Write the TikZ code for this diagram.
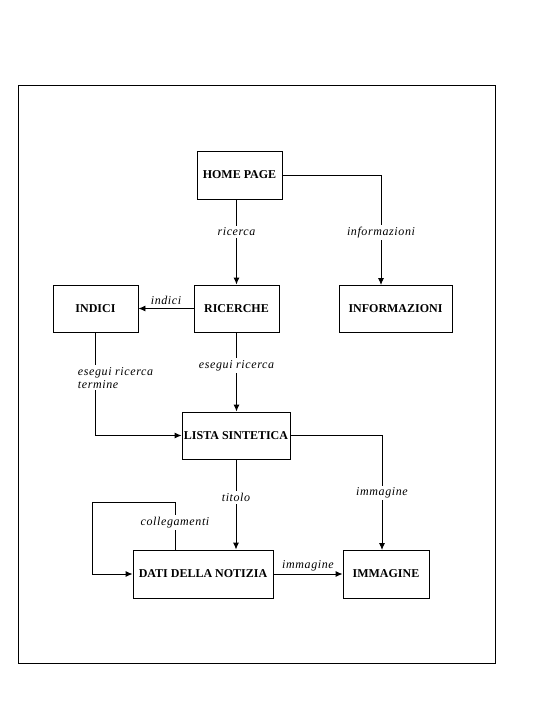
\documentclass[tikz,border=0pt]{standalone}
\usepackage{fontspec}
\setmainfont{Liberation Serif}
\newfontfamily\lblfont[LetterSpace=5]{Liberation Serif}
\usetikzlibrary{arrows.meta}
\tikzset{
  box/.style={draw, line width=0.9pt, rectangle, inner sep=0pt, font=\fontsize{12}{14}\selectfont\bfseries},
  lbl/.style={fill=white, inner sep=2pt, font=\lblfont\fontsize{12}{13}\selectfont\itshape},
  conn/.style={line width=0.9pt, -{Latex[length=7pt,width=6pt]}},
  plain/.style={line width=0.9pt}
}
\begin{document}
\begin{tikzpicture}[x=1pt,y=-1pt]
\useasboundingbox (0,0) rectangle (543,724);
\draw[plain] (18,85) rectangle (495,663);
\node[box, minimum width=85pt, minimum height=48pt] (home) at (239.5,175) {HOME PAGE};
\node[box, minimum width=85pt, minimum height=47pt] (indici) at (95.5,308.5) {INDICI};
\node[box, minimum width=85pt, minimum height=47pt] (ricerche) at (236.5,308.5) {RICERCHE};
\node[box, minimum width=113pt, minimum height=47pt] (info) at (395.5,308.5) {INFORMAZIONI};
\node[box, minimum width=108pt, minimum height=47pt] (lista) at (236,435.5) {LISTA SINTETICA};
\node[box, minimum width=140pt, minimum height=48pt] (dati) at (203,574) {DATI DELLA NOTIZIA};
\node[box, minimum width=86pt, minimum height=48pt] (imm) at (386,574) {IMMAGINE};
\coordinate (infotop) at (381,285);
\coordinate (immtop) at (382,550);
\coordinate (loopstart) at (175,550);
\coordinate (loopA) at (175,502);
\coordinate (loopB) at (92,502);
\draw[conn] (ricerche.north |- home.south) -- node[lbl, pos=0.38]{ricerca} (ricerche.north);
\draw[conn] (home.east) -| node[lbl, pos=0.76]{informazioni} (infotop);
\draw[conn] (ricerche.west) -- node[above, inner sep=3pt, font=\lblfont\fontsize{12}{13}\selectfont\itshape]{indici} (indici.east);
\draw[conn] (indici.south) |- node[lbl, pos=0.22, anchor=west, xshift=-20pt, align=left]{esegui ricerca\\termine} (lista.west);
\draw[conn] (ricerche.south) -- node[lbl, pos=0.42]{esegui ricerca} (ricerche.south |- lista.north);
\draw[conn] (lista.east) -| node[lbl, pos=0.75]{immagine} (immtop);
\draw[conn] (lista.south) -- node[lbl, pos=0.42]{titolo} (lista.south |- dati.north);
\draw[conn] (dati.east) -- node[above, inner sep=3pt, font=\lblfont\fontsize{12}{13}\selectfont\itshape]{immagine} (imm.west);
\draw[conn] (loopstart) -- node[lbl, pos=0.58]{collegamenti} (loopA) -- (loopB) |- (dati.west);
\end{tikzpicture}
\end{document}
